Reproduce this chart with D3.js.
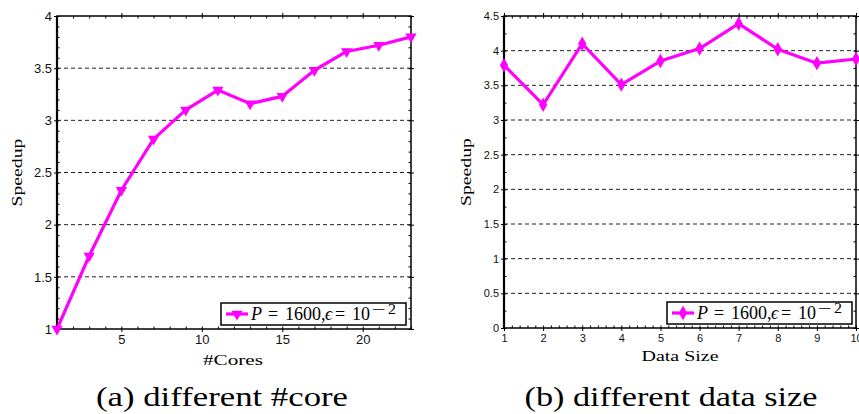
<!DOCTYPE html>
<html>
<head>
<meta charset="utf-8">
<script src="https://cdn.jsdelivr.net/npm/d3@7"></script>
<style>
  body { margin: 0; background: #fff; }
  svg { display: block; }
</style>
</head>
<body>
<div id="chart"></div>
<script>
// panel (a): speedup vs number of cores
const coresX = [1, 3, 5, 7, 9, 11, 13, 15, 17, 19, 21, 23];
const coresSpeedup = [1.0, 1.7, 2.33, 2.82, 3.1, 3.29, 3.16, 3.23, 3.48, 3.66, 3.72, 3.8];
const coresXTicks = [5, 10, 15, 20];
const coresYTicks = [1, 1.5, 2, 2.5, 3, 3.5, 4];

// panel (b): speedup vs data size
const sizeX = [1, 2, 3, 4, 5, 6, 7, 8, 9, 10];
const sizeSpeedup = [3.79, 3.22, 4.1, 3.51, 3.85, 4.03, 4.39, 4.02, 3.82, 3.88];
const sizeXTicks = [1, 2, 3, 4, 5, 6, 7, 8, 9, 10];
const sizeYTicks = [0, 0.5, 1, 1.5, 2, 2.5, 3, 3.5, 4, 4.5];

const width = 859, height = 414;
const magenta = "#ff00ff";
const serif = "'Liberation Serif', 'Times New Roman', serif";
const sans = "'Liberation Sans', Arial, sans-serif";

const svg = d3.select("#chart").append("svg")
    .attr("width", width)
    .attr("height", height);

// serif text stretched to the width the LaTeX original takes
function serifText(parent, x, y, size, len, str, anchor = "middle") {
    return parent.append("text")
        .attr("x", x).attr("y", y)
        .attr("text-anchor", anchor)
        .attr("textLength", len)
        .attr("lengthAdjust", "spacingAndGlyphs")
        .style("font-family", serif)
        .style("font-size", size + "px")
        .text(str);
}

function drawPanel(p) {
    const x = d3.scaleLinear().domain(p.xDomain).range([p.left, p.right]);
    const y = d3.scaleLinear().domain(p.yDomain).range([p.bottom, p.top]);
    const g = svg.append("g");

    // dashed grid lines
    g.append("g").selectAll("line")
        .data(p.yTicks.filter(v => v > p.yDomain[0] && v < p.yDomain[1]))
        .join("line")
            .attr("x1", p.left).attr("x2", p.right)
            .attr("y1", d => y(d)).attr("y2", d => y(d))
            .attr("stroke", "#222")
            .attr("stroke-width", 1)
            .attr("stroke-dasharray", "4,3");

    // minor ticks on all four sides, pointing inward
    const minorX = d3.range(p.xDomain[0], p.xDomain[1] + 1e-9, p.xMinor);
    const minorY = d3.range(p.yDomain[0], p.yDomain[1] + 1e-9, p.yMinor);
    g.append("g").attr("transform", `translate(0,${p.bottom})`)
        .call(d3.axisBottom(x).tickValues(minorX).tickSize(-2.5).tickFormat(""));
    g.append("g").attr("transform", `translate(0,${p.top})`)
        .call(d3.axisTop(x).tickValues(minorX).tickSize(-2.5).tickFormat(""));
    g.append("g").attr("transform", `translate(${p.left},0)`)
        .call(d3.axisLeft(y).tickValues(minorY).tickSize(-2.5).tickFormat(""));
    g.append("g").attr("transform", `translate(${p.right},0)`)
        .call(d3.axisRight(y).tickValues(minorY).tickSize(-2.5).tickFormat(""));

    // major ticks (outward) with labels
    const xAxis = g.append("g").attr("transform", `translate(0,${p.bottom})`)
        .call(d3.axisBottom(x).tickValues(p.xTicks).tickSize(3).tickPadding(3).tickFormat(d3.format("")));
    const yAxis = g.append("g").attr("transform", `translate(${p.left},0)`)
        .call(d3.axisLeft(y).tickValues(p.yTicks).tickSize(3).tickPadding(2).tickFormat(d3.format("")));
    g.append("g").attr("transform", `translate(0,${p.top})`)
        .call(d3.axisTop(x).tickValues(p.xTicks).tickSize(3).tickFormat(""));
    g.append("g").attr("transform", `translate(${p.right},0)`)
        .call(d3.axisRight(y).tickValues(p.yTicks).tickSize(3).tickFormat(""));

    [xAxis, yAxis].forEach(a => a.selectAll("text")
        .style("font-family", sans)
        .style("font-size", p.tickFont + "px")
        .attr("fill", "#111"));
    g.selectAll(".domain").remove();
    g.selectAll(".tick line").attr("stroke", "#000").attr("stroke-width", 1);

    // frame
    g.append("rect")
        .attr("x", p.left).attr("y", p.top)
        .attr("width", p.right - p.left).attr("height", p.bottom - p.top)
        .attr("fill", "none").attr("stroke", "#000").attr("stroke-width", 1.5);
    g.append("line")
        .attr("x1", p.left).attr("x2", p.left)
        .attr("y1", p.top).attr("y2", p.bottom)
        .attr("stroke", "#000").attr("stroke-width", 2.2);

    // series
    const pts = p.xs.map((v, i) => [v, p.ys[i]]);
    g.append("path")
        .datum(pts)
        .attr("fill", "none")
        .attr("stroke", magenta)
        .attr("stroke-width", 3.2)
        .attr("stroke-linejoin", "round")
        .attr("d", d3.line().x(d => x(d[0])).y(d => y(d[1])));

    const sym = d3.symbol().type(p.symbol).size(p.symbolSize);
    g.append("g").selectAll("path")
        .data(pts)
        .join("path")
            .attr("transform", d => `translate(${x(d[0])},${y(d[1])})${p.symbolRotate}`)
            .attr("d", sym)
            .attr("fill", magenta);

    // axis titles
    const yl = g.append("g")
        .attr("transform", `translate(${p.yLabelX},${(p.top + p.bottom) / 2}) rotate(-90)`);
    serifText(yl, 0, 0, 15, 68, "Speedup");
    serifText(g, p.xLabelX, p.xLabelY, 15, p.xLabelLen, p.xLabel);

    // legend
    const lg = g.append("g").attr("transform", `translate(${p.legend[0]},${p.legend[1]})`);
    lg.append("rect")
        .attr("width", 185).attr("height", 22)
        .attr("fill", "#fff").attr("stroke", "#000").attr("stroke-width", 1.5);
    lg.append("line")
        .attr("x1", 5).attr("x2", 27).attr("y1", 11).attr("y2", 11)
        .attr("stroke", magenta).attr("stroke-width", 3.2);
    lg.append("path")
        .attr("transform", `translate(16,11)${p.symbolRotate}`)
        .attr("d", sym)
        .attr("fill", magenta);
    const lt = lg.append("text")
        .attr("y", 17)
        .style("font-family", serif)
        .style("font-size", "18px");
    lt.append("tspan").attr("x", 30).style("font-style", "italic").text("P");
    lt.append("tspan").attr("x", 47).text("=");
    lt.append("tspan").attr("x", 64).text("1600,");
    lt.append("tspan").attr("x", 104).style("font-style", "italic").text("ϵ");
    lt.append("tspan").attr("x", 114).text("=");
    lt.append("tspan").attr("x", 131).text("10");
    serifText(lg, 151, 11, 14, 14, "−", "start");
    serifText(lg, 167, 11, 14, 8, "2", "start");

    // caption
    serifText(svg, p.captionX, 406, 28, p.captionLen, p.caption);
}

drawPanel({
    left: 57, right: 411, top: 16, bottom: 329,
    xDomain: [1, 23], yDomain: [1, 4],
    xTicks: coresXTicks, yTicks: coresYTicks,
    xMinor: 1, yMinor: 0.1,
    xs: coresX, ys: coresSpeedup,
    symbol: d3.symbolTriangle, symbolRotate: " rotate(180)", symbolSize: 55,
    tickFont: 13,
    yLabelX: 22, xLabel: "#Cores", xLabelX: 233, xLabelY: 365, xLabelLen: 60,
    legend: [221, 303],
    caption: "(a) different #core", captionX: 222, captionLen: 252
});

drawPanel({
    left: 504, right: 856, top: 16, bottom: 328,
    xDomain: [1, 10], yDomain: [0, 4.5],
    xTicks: sizeXTicks, yTicks: sizeYTicks,
    xMinor: 0.2, yMinor: 0.25,
    xs: sizeX, ys: sizeSpeedup,
    symbol: d3.symbolDiamond, symbolRotate: "", symbolSize: 60,
    tickFont: 11,
    yLabelX: 471, xLabel: "Data Size", xLabelX: 680, xLabelY: 361, xLabelLen: 77,
    legend: [667, 302],
    caption: "(b) different data size", captionX: 671, captionLen: 293
});
</script>
</body>
</html>
